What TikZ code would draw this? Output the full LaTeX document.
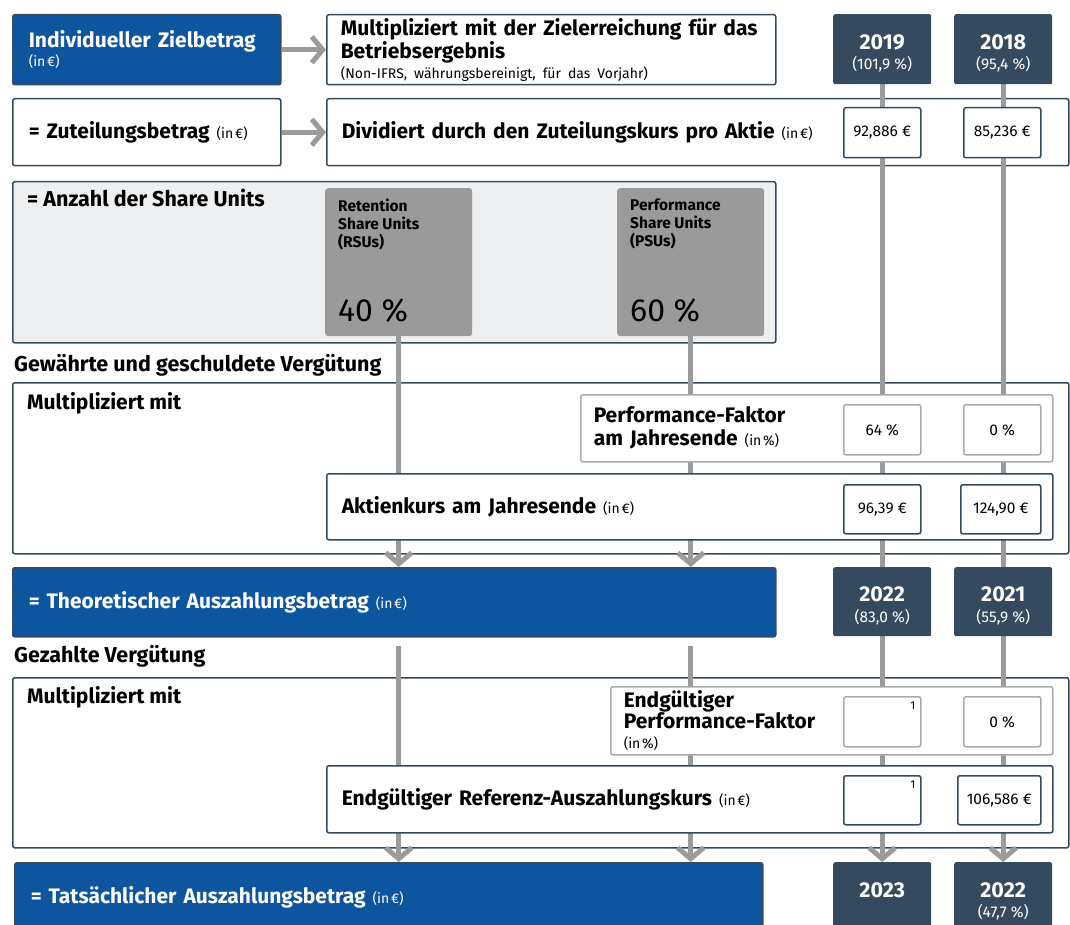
\documentclass[tikz,border=0pt]{standalone}
\usepackage{fontspec}
\setmainfont{Fira Sans}
\usetikzlibrary{arrows.meta,calc,positioning}
\definecolor{sapblau}{HTML}{0E55A0}
\definecolor{schiefer}{HTML}{354A5F}
\definecolor{pfeilgrau}{HTML}{9B9B9B}
\definecolor{anteilgrau}{HTML}{9A9A9A}
\definecolor{flaeche}{HTML}{EEEFF1}
\definecolor{randgrau}{HTML}{ABABAB}
\pgfdeclarelayer{unten}
\pgfdeclarelayer{mitte}
\pgfsetlayers{unten,mitte,main}
\newcommand{\gross}{\fontsize{21}{23}\selectfont}
\newcommand{\kopf}{\fontsize{21.5}{23}\selectfont}
\newcommand{\klein}{\mdseries\fontsize{14}{16}\selectfont}
\newcommand{\wert}{\mdseries\fontsize{15.5}{18}\selectfont}
\newcommand{\jahrfont}{\fontsize{21.5}{23}\selectfont\bfseries}
% Einheiten klein hinter den Titeln
\newcommand{\ineur}{{\klein (in\hspace{.12em}€)}}
\newcommand{\inproz}{{\klein (in\hspace{.12em}\%)}}
% Jahr oben, Zielerreichung darunter
\newcommand{\jahrtext}[2]{\rule{0pt}{23pt}{\jahrfont #1}\\[6pt]{\wert #2}}
\tikzset{
  kasten/.style={
    rounded corners=2pt,
    draw=schiefer,
    line width=1.5pt,
    fill=white,
    anchor=north west,
    align=left,
    inner xsep=15pt,
    inner ysep=0pt,
    font=\gross\bfseries
  },
  blaukasten/.style={
    kasten,
    fill=sapblau,
    text=white,
    inner xsep=16pt
  },
  hellkasten/.style={
    kasten,
    draw=randgrau,
    inner xsep=13pt
  },
  bereich/.style={
    rounded corners=2pt,
    draw=schiefer,
    line width=1.5pt,
    fill=white,
    anchor=north west,
    minimum width=1056pt,
    minimum height=170pt
  },
  jahr/.style={
    rounded corners=2pt,
    fill=schiefer,
    text=white,
    anchor=north west,
    align=center,
    minimum width=98pt,
    minimum height=70pt,
    inner sep=0pt
  },
  wertbox/.style={
    rounded corners=2pt,
    draw=schiefer,
    line width=1.5pt,
    fill=white,
    anchor=north west,
    minimum width=77pt,
    minimum height=50pt,
    inner sep=0pt,
    font=\wert
  },
  anteil/.style={
    rounded corners=3pt,
    fill=anteilgrau,
    anchor=north west,
    minimum width=147pt,
    minimum height=148pt
  },
  titel/.style={
    inner sep=0pt,
    font=\kopf\bfseries
  },
  fussnote/.style={
    anchor=north east,
    inner sep=6pt,
    font=\fontsize{11.5}{12}\selectfont
  },
  linie/.style={
    line width=5pt,
    pfeilgrau
  },
  pfeil/.style={
    linie,
    -{Straight Barb[length=11pt,width=26pt]}
  }
}

\begin{document}
\begin{tikzpicture}[x=1pt,y=-1pt]
\clip (0,0) rectangle (1070,925);

% Zielbetrag und Zuteilung
\node[blaukasten,text width=236pt,minimum height=70pt] (ziel) at (12,14)
  {Individueller Zielbetrag\\[-4pt]\ineur};
\node[kasten,inner xsep=14pt,text width=421pt,minimum height=70pt] (multi) at (326,14)
  {Multipliziert mit der Zielerreichung für das\\Betriebsergebnis\\[-3pt]
   {\klein (Non-IFRS, währungsbereinigt, für das Vorjahr)}};
\node[jahr] (j19) at (833,14) {\jahrtext{2019}{(101,9 \%)}};
\node[jahr] (j18) at (954,14) {\jahrtext{2018}{(95,4 \%)}};

\node[kasten,inner xsep=16pt,text width=236pt,minimum height=67pt] (zuteil) at (12,98)
  {= Zuteilungsbetrag \ineur};
\begin{pgfonlayer}{unten}
\node[kasten,text width=712pt,minimum height=67pt] (divid) at (326,98)
  {Dividiert durch den Zuteilungskurs pro Aktie \ineur};
\end{pgfonlayer}
\node[wertbox] (k19) at (843,107) {92,886 €};
\node[wertbox] (k18) at (963,107) {85,236 €};

% Share Units
\begin{pgfonlayer}{unten}
\node[kasten,fill=flaeche,minimum width=763pt,minimum height=161pt] (anzahl) at (12,181) {};
\end{pgfonlayer}
\node[titel,below right=26pt and 15pt of anzahl.north west,anchor=base west] (anzahltext)
  {= Anzahl der Share Units};
\node[anteil] (rsu) at (325,188) {};
\node[anteil] (psu) at (617,188) {};
\node[titel,font=\fontsize{15.5}{18}\selectfont\bfseries,align=left,
  below right=11pt and 13pt of rsu.north west] (rsutext) {Retention\\Share Units\\(RSUs)};
\node[titel,font=\fontsize{32}{32}\selectfont,
  above right=15pt and 13pt of rsu.south west,anchor=base west] (rsuwert) {40 \%};
\node[titel,font=\fontsize{15.5}{18}\selectfont\bfseries,align=left,
  below right=11pt and 13pt of psu.north west] (psutext) {Performance\\Share Units\\(PSUs)};
\node[titel,font=\fontsize{32}{32}\selectfont,
  above right=15pt and 13pt of psu.south west,anchor=base west] (psuwert) {60 \%};

% Gewaehrte Verguetung
\node[titel,anchor=base west] (gewaehrt) at (14,371) {Gewährte und geschuldete Vergütung};
\begin{pgfonlayer}{unten}
\node[bereich,minimum height=171pt] (sek1) at (12,382) {};
\end{pgfonlayer}
\node[titel,font=\gross\bfseries,below right=27pt and 15pt of sek1.north west,anchor=base west]
  (sek1text) {Multipliziert mit};
\node[hellkasten,text width=446pt,minimum height=67pt] (pf) at (580,394)
  {Performance-Faktor\\am Jahresende \inproz};
\node[wertbox,draw=randgrau] (p19) at (843,404) {64 \%};
\node[wertbox,draw=randgrau] (p18) at (963,404) {0 \%};
\node[kasten,text width=696pt,minimum height=66pt] (akt) at (326,473)
  {Aktienkurs am Jahresende \ineur};
\node[wertbox,minimum height=49pt] (a19) at (843,484) {96,39 €};
\node[wertbox,minimum width=80pt,minimum height=49pt] (a18) at (960,484) {124,90 €};

\node[blaukasten,text width=731pt,minimum height=69pt] (theo) at (12,567)
  {= Theoretischer Auszahlungsbetrag \ineur};
\node[jahr,minimum height=69pt] (j22) at (833,567) {\jahrtext{2022}{(83,0 \%)}};
\node[jahr,minimum height=69pt] (j21) at (954,567) {\jahrtext{2021}{(55,9 \%)}};

% Gezahlte Verguetung
\node[titel,anchor=base west] (gezahlt) at (14,662) {Gezahlte Vergütung};
\begin{pgfonlayer}{unten}
\node[bereich] (sek2) at (12,677) {};
\end{pgfonlayer}
\node[titel,font=\gross\bfseries,below right=26pt and 15pt of sek2.north west,anchor=base west]
  (sek2text) {Multipliziert mit};
\node[hellkasten,text width=416pt,minimum height=68pt] (epf) at (610,686)
  {Endgültiger\\[-2pt]Performance-Faktor\\[-3pt]\inproz};
\node[wertbox,draw=randgrau,label={[fussnote]north east:1}] (e19) at (843,696) {};
\node[wertbox,draw=randgrau] (e18) at (963,696) {0 \%};
\node[kasten,text width=696pt,minimum height=67pt] (ref) at (326,765)
  {Endgültiger Referenz-Auszahlungskurs \ineur};
\node[wertbox,minimum height=49pt,label={[fussnote]north east:1}] (r19) at (843,775) {};
\node[wertbox,minimum width=83pt,minimum height=49pt] (r18) at (957,775) {106,586 €};

\node[blaukasten,text width=716pt,minimum height=70pt] (tats) at (14,862)
  {= Tatsächlicher Auszahlungsbetrag \ineur};
\node[jahr] (j23) at (833,862) {\jahrtext{2023}{\phantom{(0)}}};
\node[jahr] (j22b) at (954,862) {\jahrtext{2022}{(47,7 \%)}};

% Verbindungen
\begin{pgfonlayer}{mitte}
\draw[pfeil] (ziel.east) -- (multi.west);
\draw[pfeil] (zuteil.east) -- (divid.west);
\draw[linie] (j19.south) -- (j22.north);
\draw[linie] (j18.south) -- (j21.north);
\draw[pfeil] (j22.south) -- (j23.north);
\draw[pfeil] (j21.south) -- (j22b.north);
\draw[pfeil] (rsu.south) -- (rsu.south |- theo.north);
\draw[pfeil] (psu.south) -- (psu.south |- theo.north);
\draw[pfeil] ([yshift=-8pt]rsu.south |- theo.south) -- (rsu.south |- tats.north);
\draw[pfeil] ([yshift=-8pt]psu.south |- theo.south) -- (psu.south |- tats.north);
\end{pgfonlayer}
\end{tikzpicture}
\end{document}
